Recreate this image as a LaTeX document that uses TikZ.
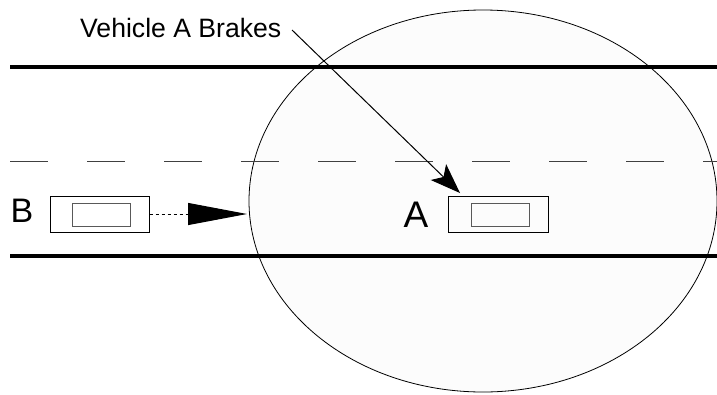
\documentclass[tikz,border=0pt]{standalone}
\usepackage{fontspec}
\setmainfont{Liberation Sans}
\usetikzlibrary{arrows.meta,shapes.geometric}
\begin{document}
\begin{tikzpicture}[x=1pt,y=-1pt,
  road/.style={line width=3.5pt},
  centerline/.style={line width=1pt,draw=black!75,dash pattern=on 38pt off 39pt},
  carbody/.style={draw,line width=1pt,inner sep=0pt,minimum width=99pt,minimum height=36pt},
  carroof/.style={draw=black!65,line width=1pt,inner sep=0pt,minimum width=58pt,minimum height=23pt},
  lbl/.style={inner sep=0pt,anchor=base west}]
\useasboundingbox (0,0) rectangle (717,394);
% zone of influence
\node[ellipse,draw,line width=0.8pt,fill=black!1,minimum width=468pt,minimum height=382pt,inner sep=0pt] (zone) at (483,201) {};
% road
\coordinate (r1a) at (10,67);  \coordinate (r1b) at (717,67);
\coordinate (r2a) at (10,256); \coordinate (r2b) at (717,256);
\coordinate (cla) at (10,161); \coordinate (clb) at (717,161);
\draw[road] (r1a) -- (r1b);
\draw[road] (r2a) -- (r2b);
\draw[centerline] (cla) -- (clb);
% cars
\node[carbody] (carB) at (99.5,214) {};
\node[carroof] (roofB) at (101.5,214.5) {};
\node[carbody,minimum width=100pt] (carA) at (498,214) {};
\node[carroof] (roofA) at (500,214.5) {};
% labels
\node[lbl,font=\fontsize{34}{37}\selectfont] (labB) at (10.5,222.3) {B};
\node[lbl,font=\fontsize{37}{40}\selectfont] (labA) at (403.5,227.7) {A};
\node[lbl,font=\fontsize{26.6}{30}\selectfont] (brakes) at (80,37) {Vehicle A Brakes};
% arrows
\coordinate (tipB) at (247,214);
\draw[line width=1pt,dash pattern=on 3pt off 3pt,-{Triangle[length=59pt,width=22pt]}] (carB.east) -- (tipB);
\coordinate (startA) at (292,30);
\coordinate (tipA) at (460,193);
\draw[line width=1pt,-{Stealth[length=30pt,width=22pt,inset=7pt]}] (startA) -- (tipA);
\end{tikzpicture}
\end{document}
